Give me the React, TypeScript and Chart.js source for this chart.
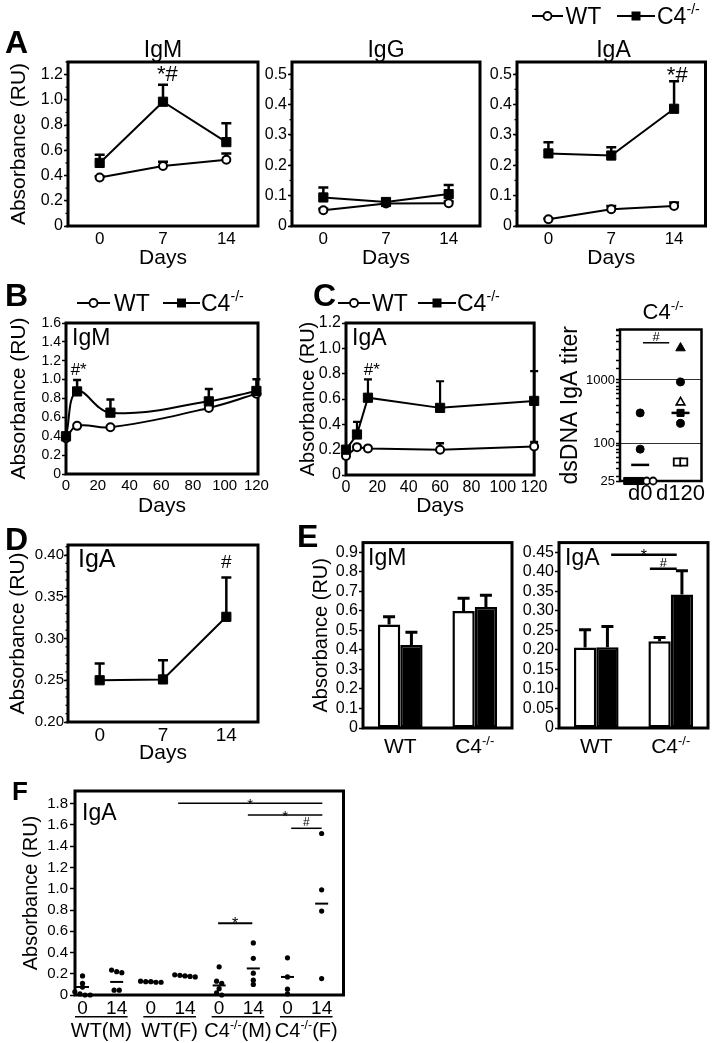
import React, { useEffect, useRef } from 'react';
import { Chart, registerables } from 'chart.js';

Chart.register(...registerables);

const FONT = '"Liberation Sans", Arial, Helvetica, sans-serif';
Chart.defaults.font.family = FONT;
Chart.defaults.color = '#000';

/* ================= DATA ================= */
// Panel A
const A_DAYS = ['0', '7', '14'];
const A_IGM_WT = [0.385, 0.475, 0.525];
const A_IGM_WT_ERR = [0.01, 0.035, 0.05];
const A_IGM_C4 = [0.5, 0.985, 0.665];
const A_IGM_C4_ERR = [0.065, 0.135, 0.15];
const A_IGG_WT = [0.052, 0.074, 0.075];
const A_IGG_WT_ERR = [0.005, 0.006, 0.006];
const A_IGG_C4 = [0.094, 0.079, 0.105];
const A_IGG_C4_ERR = [0.033, 0.01, 0.03];
const A_IGA_WT = [0.022, 0.055, 0.066];
const A_IGA_WT_ERR = [0.003, 0.011, 0.011];
const A_IGA_C4 = [0.239, 0.232, 0.386];
const A_IGA_C4_ERR = [0.037, 0.027, 0.091];

// Panel B
const B_DAYS = [0, 7, 28, 90, 120];
const B_IGM_WT = [0.38, 0.51, 0.495, 0.7, 0.85];
const B_IGM_WT_ERR = [0, 0.02, 0.01, 0.02, 0.01];
const B_IGM_C4 = [0.4, 0.875, 0.65, 0.77, 0.88];
const B_IGM_C4_ERR = [0.02, 0.12, 0.14, 0.13, 0.125];

// Panel C (time course)
const C_DAYS = [0, 7, 14, 60, 120];
const C_IGA_WT = [0.15, 0.22, 0.21, 0.2, 0.225];
const C_IGA_WT_ERR = [0, 0, 0, 0.05, 0.035];
const C_IGA_C4 = [0.2, 0.32, 0.61, 0.53, 0.585];
const C_IGA_C4_ERR = [0.02, 0.1, 0.145, 0.21, 0.235];

// Panel C (dsDNA IgA titer, C4-/-)
const DS_GROUPS = ['d0', 'd120'];
const DS_D0_FILLED_CIRCLE = [300, 80];
const DS_D0_FILLED_SQUARE = [25, 25, 25];
const DS_D0_OPEN_CIRCLE = [25, 25];
const DS_D120_FILLED_TRIANGLE = [3200];
const DS_D120_FILLED_CIRCLE = [930, 205];
const DS_D120_FILLED_SQUARE = [300];
const DS_D120_OPEN_TRIANGLE = [440];
const DS_D120_OPEN_SQUARE = [50, 50];
const DS_MEANS = [45, 300];

// Panel D
const D_DAYS = ['0', '7', '14'];
const D_IGA_C4 = [0.25, 0.251, 0.326];
const D_IGA_C4_ERR = [0.02, 0.023, 0.047];

// Panel E
const E_GROUPS = ['WT', 'C4^{-/-}'];
const E_IGM_WHITE = [0.53, 0.6];
const E_IGM_WHITE_ERR = [0.04, 0.065];
const E_IGM_BLACK = [0.425, 0.62];
const E_IGM_BLACK_ERR = [0.065, 0.06];
const E_IGA_WHITE = [0.206, 0.222];
const E_IGA_WHITE_ERR = [0.046, 0.01];
const E_IGA_BLACK = [0.207, 0.342];
const E_IGA_BLACK_ERR = [0.053, 0.061];

// Panel F
const F_DAY_LABELS = ['0', '14', '0', '14', '0', '14', '0', '14'];
const F_GROUP_LABELS = ['WT(M)', 'WT(F)', 'C4^{-/-}(M)', 'C4^{-/-}(F)'];
const F_WTM_D0 = [0.18, 0.11, 0.075, 0.03, 0.01, 0, 0];
const F_WTM_D14 = [0.235, 0.22, 0.21, 0.045, 0.045];
const F_WTF_D0 = [0.13, 0.125, 0.125, 0.12, 0.12];
const F_WTF_D14 = [0.19, 0.185, 0.18, 0.175, 0.17];
const F_C4M_D0 = [0.265, 0.13, 0.11, 0.06, 0.02, 0];
const F_C4M_D14 = [0.49, 0.345, 0.205, 0.14, 0.1];
const F_C4F_D0 = [0.35, 0.17, 0.055, 0.01];
const F_C4F_D14 = [1.52, 0.99, 0.79, 0.155];
const F_MEANS = [0.075, 0.123, 0.125, 0.18, 0.09, 0.25, 0.17, 0.86];

/* ================= HELPERS ================= */
type Rect = { x: number; y: number; w: number; h: number };
type Box = { l: number; t: number; r: number; b: number };

const fmt1 = (v: any) => (Number(v) === 0 ? '0' : Number(v).toFixed(1));
const fmt2 = (v: any) => (Number(v) === 0 ? '0' : Number(v).toFixed(2));

function richParts(s: string) {
  return s
    .split(/\^\{([^}]*)\}/)
    .map((t, i) => ({ t, sup: i % 2 === 1 }))
    .filter((p) => p.t.length > 0);
}

function drawRich(ctx: CanvasRenderingContext2D, s: string, x: number, y: number, size: number) {
  const parts = richParts(s);
  const ws = parts.map((p) => {
    ctx.font = `${p.sup ? size * 0.62 : size}px ${FONT}`;
    return ctx.measureText(p.t).width;
  });
  let cx = x - ws.reduce((a, b) => a + b, 0) / 2;
  ctx.textAlign = 'left';
  ctx.textBaseline = 'alphabetic';
  parts.forEach((p, i) => {
    ctx.font = `${p.sup ? size * 0.62 : size}px ${FONT}`;
    ctx.fillText(p.t, cx, p.sup ? y - size * 0.4 : y);
    cx += ws[i];
  });
}

// spread near-equal values horizontally (layout only, values untouched)
function swarm(values: number[], center: number, near: (a: number, b: number) => boolean, spacing: number) {
  const idx = values.map((_, i) => i).sort((a, b) => values[b] - values[a]);
  const clusters: number[][] = [];
  idx.forEach((i) => {
    const last = clusters[clusters.length - 1];
    if (last && near(values[last[last.length - 1]], values[i])) last.push(i);
    else clusters.push([i]);
  });
  const pts: { x: number; y: number }[] = new Array(values.length);
  clusters.forEach((cl) =>
    cl.forEach((i, k) => {
      pts[i] = { x: center + (k - (cl.length - 1) / 2) * spacing, y: values[i] };
    })
  );
  return pts;
}

/* ================= PLUGINS ================= */
const framePlugin = {
  id: 'frame',
  beforeDatasetsDraw(chart: any, _a: any, opts: any) {
    const { ctx, chartArea: a } = chart;
    ctx.save();
    ctx.strokeStyle = '#000';
    ctx.lineWidth = opts.width ?? 3;
    ctx.strokeRect(a.left, a.top, a.right - a.left, a.bottom - a.top);
    ctx.restore();
  },
};

const minorPlugin = {
  id: 'minor',
  beforeDatasetsDraw(chart: any, _a: any, opts: any) {
    if (!opts || !opts.step) return;
    const { ctx, chartArea } = chart;
    const ys = chart.scales.y;
    ctx.save();
    ctx.strokeStyle = '#000';
    ctx.lineWidth = 1.3;
    const n = Math.floor((ys.max - ys.min) / opts.step + 1e-6);
    for (let k = 0; k <= n; k++) {
      const y = ys.getPixelForValue(ys.min + k * opts.step);
      ctx.beginPath();
      ctx.moveTo(chartArea.left - (opts.len ?? 3), y);
      ctx.lineTo(chartArea.left, y);
      ctx.stroke();
    }
    ctx.restore();
  },
};

const errorPlugin = {
  id: 'errorBars',
  beforeDatasetsDraw(chart: any) {
    const { ctx } = chart;
    chart.data.datasets.forEach((ds: any, i: number) => {
      if (!ds.errors) return;
      const meta = chart.getDatasetMeta(i);
      const ys = chart.scales[meta.yAxisID];
      ctx.save();
      ctx.strokeStyle = '#000';
      ctx.lineWidth = ds.errorWidth ?? 2.5;
      meta.data.forEach((el: any, j: number) => {
        const e = ds.errors[j];
        if (!e) return;
        const raw = ds.data[j];
        const v = typeof raw === 'number' ? raw : raw.y;
        const top = ys.getPixelForValue(v + e);
        const cap = ds.errorCap ?? 10;
        ctx.beginPath();
        ctx.moveTo(el.x, el.y);
        ctx.lineTo(el.x, top);
        ctx.moveTo(el.x - cap / 2, top);
        ctx.lineTo(el.x + cap / 2, top);
        ctx.stroke();
      });
      ctx.restore();
    });
  },
};

const marksPlugin = {
  id: 'marks',
  afterDatasetsDraw(chart: any, _a: any, opts: any) {
    if (!opts) return;
    const { ctx, chartArea } = chart;
    const xs = chart.scales.x;
    const ys = chart.scales.y;
    ctx.save();
    ctx.fillStyle = '#000';
    ctx.strokeStyle = '#000';
    (opts.texts || []).forEach((t: any) => {
      ctx.font = `${t.size}px ${FONT}`;
      ctx.textAlign = 'center';
      ctx.textBaseline = 'alphabetic';
      ctx.fillText(t.text, xs.getPixelForValue(t.x), ys.getPixelForValue(t.y));
    });
    (opts.brackets || []).forEach((b: any) => {
      const x1 = xs.getPixelForValue(b.x1);
      const x2 = xs.getPixelForValue(b.x2);
      const y = ys.getPixelForValue(b.y);
      ctx.lineWidth = b.width ?? 2;
      ctx.beginPath();
      ctx.moveTo(x1, y);
      ctx.lineTo(x2, y);
      ctx.stroke();
      ctx.font = `${b.size}px ${FONT}`;
      ctx.textAlign = 'center';
      ctx.textBaseline = 'alphabetic';
      ctx.fillText(b.text, (x1 + x2) / 2, y + (b.dy ?? -2));
    });
    (opts.underlines || []).forEach((u: any) => {
      const x1 = xs.getPixelForValue(u.x1);
      const x2 = xs.getPixelForValue(u.x2);
      const y = chartArea.bottom + u.dy;
      ctx.lineWidth = 1.5;
      ctx.beginPath();
      ctx.moveTo(x1, y);
      ctx.lineTo(x2, y);
      ctx.stroke();
    });
    (opts.labels || []).forEach((l: any) => {
      drawRich(ctx, l.text, xs.getPixelForValue(l.x), chartArea.bottom + l.dy, l.size);
    });
    ctx.restore();
  },
};

const PLUGINS = [framePlugin, minorPlugin, errorPlugin, marksPlugin];

/* ================= SCALE BUILDERS ================= */
function yAxis(c: Rect, b: Box, o: any) {
  const ticks: any = {
    includeBounds: false,
    autoSkip: false,
    padding: o.pad ?? 1,
    color: '#000',
    font: { family: FONT, size: o.size },
  };
  if (o.step) ticks.stepSize = o.step;
  if (o.cb) ticks.callback = o.cb;
  return {
    type: o.type ?? 'linear',
    position: 'left',
    min: o.min,
    max: o.max,
    afterFit: (s: any) => {
      s.width = b.l - c.x;
    },
    border: { display: false },
    grid: {
      display: true,
      drawOnChartArea: !!o.gridColor,
      color: o.gridColor ?? '#000',
      lineWidth: 1,
      drawTicks: true,
      tickLength: o.tickLen ?? 4,
      tickColor: '#000',
      tickWidth: 1.5,
    },
    ticks,
    title: o.title
      ? {
          display: true,
          text: o.title,
          color: '#000',
          font: { family: FONT, size: o.titleSize },
          padding: { top: Math.max(0, o.titleX - c.x - o.titleSize * 0.6), bottom: 0 },
        }
      : { display: false },
  };
}

function xAxis(c: Rect, b: Box, o: any) {
  const ticks: any = {
    display: o.showTicks ?? true,
    includeBounds: false,
    autoSkip: false,
    maxRotation: 0,
    minRotation: 0,
    padding: o.pad ?? 2,
    color: '#000',
    font: { family: FONT, size: o.size ?? 16 },
  };
  if (o.step) ticks.stepSize = o.step;
  if (o.cb) ticks.callback = o.cb;
  const s: any = {
    type: o.type ?? 'linear',
    position: 'bottom',
    offset: o.offset ?? false,
    afterFit: (sc: any) => {
      sc.height = c.y + c.h - b.b;
    },
    border: { display: false },
    grid: { display: false, drawTicks: false, tickLength: 0 },
    ticks,
    title: o.title
      ? {
          display: true,
          text: o.title,
          color: '#000',
          font: { family: FONT, size: o.titleSize },
          padding: { top: 0, bottom: Math.max(0, c.y + c.h - o.titleY - o.titleSize * 0.6) },
        }
      : { display: false },
  };
  if (o.min !== undefined) s.min = o.min;
  if (o.max !== undefined) s.max = o.max;
  return s;
}

function baseConfig(type: string, c: Rect, b: Box, scales: any, datasets: any[], labels: any, pluginOpts: any) {
  return {
    type,
    data: labels ? { labels, datasets } : { datasets },
    options: {
      responsive: false,
      maintainAspectRatio: false,
      animation: false,
      events: [],
      layout: { padding: { left: 0, top: b.t - c.y, right: c.x + c.w - b.r, bottom: 0 } },
      plugins: {
        legend: { display: false },
        tooltip: { enabled: false },
        title: { display: false },
        ...pluginOpts,
      },
      scales,
    },
    plugins: PLUGINS,
  };
}

function wtLine(data: any[], errors: number[], extra: any = {}) {
  return {
    type: 'line',
    data,
    errors,
    borderColor: '#000',
    borderWidth: 2,
    pointStyle: 'circle',
    pointRadius: 4,
    pointBackgroundColor: '#fff',
    pointBorderColor: '#000',
    pointBorderWidth: 2,
    clip: false,
    tension: 0,
    ...extra,
  };
}
function c4Line(data: any[], errors: number[], extra: any = {}) {
  return {
    type: 'line',
    data,
    errors,
    borderColor: '#000',
    borderWidth: 2,
    pointStyle: 'rect',
    pointRadius: 6.5,
    pointBackgroundColor: '#000',
    pointBorderColor: '#000',
    pointBorderWidth: 1,
    clip: false,
    tension: 0,
    ...extra,
  };
}
const xy = (xsArr: number[], ysArr: number[]) => xsArr.map((x, i) => ({ x, y: ysArr[i] }));

/* ================= GEOMETRY ================= */
const GA1 = { c: { x: 0, y: 45, w: 268, h: 232 }, b: { l: 68, t: 62, r: 258, b: 226 } };
const GA2 = { c: { x: 256, y: 45, w: 232, h: 232 }, b: { l: 292, t: 62, r: 480, b: 226 } };
const GA3 = { c: { x: 482, y: 45, w: 231, h: 232 }, b: { l: 517, t: 62, r: 710, b: 226 } };
const GB = { c: { x: 0, y: 310, w: 275, h: 212 }, b: { l: 66, t: 323, r: 258, b: 474 } };
const GC = { c: { x: 296, y: 310, w: 254, h: 212 }, b: { l: 346, t: 323, r: 535, b: 475 } };
const GDS = { c: { x: 556, y: 318, w: 157, h: 190 }, b: { l: 620, t: 328, r: 707, b: 481 } };
const GD = { c: { x: 0, y: 532, w: 268, h: 240 }, b: { l: 68, t: 545, r: 258, b: 722 } };
const GE1 = { c: { x: 306, y: 532, w: 212, h: 230 }, b: { l: 363, t: 542, r: 512, b: 728 } };
const GE2 = { c: { x: 512, y: 532, w: 201, h: 230 }, b: { l: 559, t: 542, r: 708, b: 728 } };
const GF = { c: { x: 0, y: 778, w: 352, h: 265 }, b: { l: 75, t: 791, r: 344, b: 995 } };

/* ================= CHART CONFIGS ================= */
function aConfig(g: any, wt: number[], wtE: number[], c4: number[], c4E: number[], yMax: number, step: number, minor: number, yTitle: boolean, marks: any) {
  return baseConfig(
    'line',
    g.c,
    g.b,
    {
      x: xAxis(g.c, g.b, { type: 'category', offset: true, size: 17, pad: 3, title: 'Days', titleSize: 21, titleY: 258 }),
      y: yAxis(g.c, g.b, {
        min: 0,
        max: yMax,
        step,
        size: 16,
        cb: fmt1,
        tickLen: 4,
        pad: 1,
        title: yTitle ? 'Absorbance (RU)' : undefined,
        titleSize: 21,
        titleX: 19.4,
      }),
    },
    [c4Line(c4, c4E), wtLine(wt, wtE)],
    A_DAYS,
    { frame: { width: 3 }, minor: { step: minor, len: 2.5 }, marks }
  );
}

function bConfig() {
  const g = GB;
  return baseConfig(
    'line',
    g.c,
    g.b,
    {
      x: xAxis(g.c, g.b, { min: 0, max: 121, step: 20, size: 15, pad: 3, title: 'Days', titleSize: 21, titleY: 505.8 }),
      y: yAxis(g.c, g.b, { min: 0, max: 1.6, step: 0.2, size: 14, cb: fmt1, tickLen: 4, pad: 1, title: 'Absorbance (RU)', titleSize: 21, titleX: 19.4 }),
    },
    [
      c4Line(xy(B_DAYS, B_IGM_C4), B_IGM_C4_ERR, { tension: 0.4, errorCap: 8 }),
      wtLine(xy(B_DAYS, B_IGM_WT), B_IGM_WT_ERR, { tension: 0.4, errorCap: 8 }),
    ],
    null,
    { frame: { width: 3 }, marks: { texts: [{ x: 8, y: 1.05, text: '#*', size: 17 }] } }
  );
}

function cConfig() {
  const g = GC;
  return baseConfig(
    'line',
    g.c,
    g.b,
    {
      x: xAxis(g.c, g.b, { min: 0, max: 120, step: 20, size: 16, pad: 2.5, title: 'Days', titleSize: 21, titleY: 505.8 }),
      y: yAxis(g.c, g.b, { min: 0, max: 1.2, step: 0.2, size: 16, cb: fmt1, tickLen: 4, pad: 1, title: 'Absorbance (RU)', titleSize: 20, titleX: 308.4 }),
    },
    [
      c4Line(xy(C_DAYS, C_IGA_C4), C_IGA_C4_ERR, { errorCap: 8, errorWidth: 2.2 }),
      wtLine(xy(C_DAYS, C_IGA_WT), C_IGA_WT_ERR, { errorCap: 8 }),
    ],
    null,
    { frame: { width: 3 }, marks: { texts: [{ x: 16.5, y: 0.79, text: '#*', size: 17 }] } }
  );
}

function dsConfig() {
  const g = GDS;
  const sets: [string, number[]][][] = [
    [
      ['filledCircle', DS_D0_FILLED_CIRCLE],
      ['filledSquare', DS_D0_FILLED_SQUARE],
      ['openCircle', DS_D0_OPEN_CIRCLE],
    ],
    [
      ['filledTriangle', DS_D120_FILLED_TRIANGLE],
      ['filledCircle', DS_D120_FILLED_CIRCLE],
      ['filledSquare', DS_D120_FILLED_SQUARE],
      ['openTriangle', DS_D120_OPEN_TRIANGLE],
      ['openSquare', DS_D120_OPEN_SQUARE],
    ],
  ];
  const pts: Record<string, { x: number; y: number }[]> = {};
  sets.forEach((group, gi) => {
    const vals: number[] = [];
    const keys: string[] = [];
    group.forEach(([k, arr]) =>
      arr.forEach((v) => {
        vals.push(v);
        keys.push(k);
      })
    );
    const p = swarm(vals, gi, (a, b) => Math.abs(Math.log10(a) - Math.log10(b)) < 0.06, 0.16);
    p.forEach((pt, i) => {
      (pts[keys[i]] = pts[keys[i]] || []).push(pt);
    });
  });
  const style: Record<string, any> = {
    filledCircle: { pointStyle: 'circle', pointRadius: 4, pointBackgroundColor: '#000', pointBorderWidth: 1 },
    filledSquare: { pointStyle: 'rect', pointRadius: 5, pointBackgroundColor: '#000', pointBorderWidth: 1 },
    openCircle: { pointStyle: 'circle', pointRadius: 3.5, pointBackgroundColor: '#fff', pointBorderWidth: 1.8 },
    filledTriangle: { pointStyle: 'triangle', pointRadius: 5.5, pointBackgroundColor: '#000', pointBorderWidth: 1 },
    openTriangle: { pointStyle: 'triangle', pointRadius: 5, pointBackgroundColor: '#fff', pointBorderWidth: 1.6 },
    openSquare: { pointStyle: 'rect', pointRadius: 5, pointBackgroundColor: '#fff', pointBorderWidth: 1.8 },
  };
  const datasets: any[] = Object.keys(pts).map((k) => ({
    data: pts[k],
    pointBorderColor: '#000',
    clip: false,
    ...style[k],
  }));
  datasets.push({
    data: DS_MEANS.map((v, i) => ({ x: i, y: v })),
    pointStyle: 'line',
    pointRadius: 9,
    pointBorderWidth: 2.5,
    pointBorderColor: '#000',
    borderColor: '#000',
    clip: false,
  });
  const gridColor = (ctx: any) => (ctx.tick && (ctx.tick.value === 100 || ctx.tick.value === 1000) ? '#333' : 'rgba(0,0,0,0)');
  return baseConfig(
    'scatter',
    g.c,
    g.b,
    {
      x: xAxis(g.c, g.b, { min: -0.5, max: 1.52, step: 1, size: 22, pad: 0, cb: (v: any) => DS_GROUPS[Number(v)] ?? '' }),
      y: yAxis(g.c, g.b, {
        type: 'logarithmic',
        min: 25,
        max: 6300,
        size: 13,
        tickLen: 4,
        pad: 1,
        cb: (v: any) => ([25, 100, 1000].includes(Number(v)) ? String(v) : ''),
        gridColor,
        title: 'dsDNA IgA titer',
        titleSize: 23,
        titleX: 570.3,
      }),
    },
    datasets,
    null,
    { frame: { width: 2.5 }, marks: { brackets: [{ x1: 0.07, x2: 0.72, y: 3880, text: '#', size: 13, dy: -2, width: 1.5 }] } }
  );
}

function dConfig() {
  const g = GD;
  return baseConfig(
    'line',
    g.c,
    g.b,
    {
      x: xAxis(g.c, g.b, { type: 'category', offset: true, size: 19, pad: 2, title: 'Days', titleSize: 21, titleY: 753 }),
      y: yAxis(g.c, g.b, { min: 0.2, max: 0.412, step: 0.05, size: 15, cb: fmt2, tickLen: 4, pad: 0, title: 'Absorbance (RU)', titleSize: 21, titleX: 18.7 }),
    },
    [c4Line(D_IGA_C4, D_IGA_C4_ERR)],
    D_DAYS,
    { frame: { width: 3 }, minor: { step: 0.01, len: 2.5 }, marks: { texts: [{ x: 2, y: 0.384, text: '#', size: 19 }] } }
  );
}

function eConfig(g: any, white: number[], whiteE: number[], black: number[], blackE: number[], yMax: number, step: number, cb: any, yTitle: boolean, marks: any) {
  const bar = (data: number[], errors: number[], fill: string) => ({
    type: 'bar',
    data,
    errors,
    errorCap: 12,
    errorWidth: 3,
    backgroundColor: fill,
    borderColor: '#000',
    borderWidth: 2.5,
    borderSkipped: false,
    categoryPercentage: 0.6,
    barPercentage: 1,
  });
  return baseConfig(
    'bar',
    g.c,
    g.b,
    {
      x: xAxis(g.c, g.b, { type: 'category', offset: true, showTicks: false }),
      y: yAxis(g.c, g.b, {
        min: 0,
        max: yMax,
        step,
        size: 16,
        cb,
        tickLen: 4,
        pad: 1,
        title: yTitle ? 'Absorbance (RU)' : undefined,
        titleSize: 20,
        titleX: 321.4,
      }),
    },
    [bar(white, whiteE, '#fff'), bar(black, blackE, '#000')],
    E_GROUPS,
    {
      frame: { width: 3 },
      marks: { ...marks, labels: E_GROUPS.map((t, i) => ({ x: i, text: t, dy: 25, size: 21 })) },
    }
  );
}

function fConfig() {
  const g = GF;
  const cols = [F_WTM_D0, F_WTM_D14, F_WTF_D0, F_WTF_D14, F_C4M_D0, F_C4M_D14, F_C4F_D0, F_C4F_D14];
  const pts = cols.flatMap((vals, i) => swarm(vals, i, (a, b) => Math.abs(a - b) < 0.03, 0.15));
  return baseConfig(
    'scatter',
    g.c,
    g.b,
    {
      x: xAxis(g.c, g.b, { min: -0.22, max: 7.64, step: 1, size: 19, pad: 2, cb: (v: any) => F_DAY_LABELS[Number(v)] ?? '' }),
      y: yAxis(g.c, g.b, { min: 0, max: 1.92, step: 0.2, size: 15, cb: fmt1, tickLen: 5, pad: 2, title: 'Absorbance (RU)', titleSize: 20, titleX: 31.4 }),
    },
    [
      {
        data: pts,
        pointStyle: 'circle',
        pointRadius: 2.6,
        pointBackgroundColor: '#000',
        pointBorderColor: '#000',
        pointBorderWidth: 0,
        clip: false,
      },
      {
        data: F_MEANS.map((v, i) => ({ x: i, y: v })),
        pointStyle: 'line',
        pointRadius: 6.5,
        pointBorderWidth: 2,
        pointBorderColor: '#000',
        borderColor: '#000',
        clip: false,
      },
    ],
    null,
    {
      frame: { width: 3 },
      marks: {
        brackets: [
          { x1: 2.8, x2: 7.02, y: 1.804, text: '*', size: 15, dy: 6, width: 1.5 },
          { x1: 4.84, x2: 7.02, y: 1.694, text: '*', size: 15, dy: 6, width: 1.5 },
          { x1: 6.11, x2: 7.0, y: 1.569, text: '#', size: 12, dy: -2, width: 1.5 },
          { x1: 3.97, x2: 4.97, y: 0.675, text: '*', size: 16, dy: 6, width: 2 },
        ],
        underlines: F_GROUP_LABELS.map((_, i) => ({ x1: 2 * i - 0.22, x2: 2 * i + 1.32, dy: 21.7 })),
        labels: F_GROUP_LABELS.map((t, i) => ({ x: 2 * i + 0.55, text: t, dy: 41.7, size: 20 })),
      },
    }
  );
}

/* ================= COMPONENTS ================= */
function ChartCanvas({ g, make }: { g: { c: Rect }; make: () => any }) {
  const ref = useRef<HTMLCanvasElement | null>(null);
  useEffect(() => {
    const chart = new Chart(ref.current as HTMLCanvasElement, make());
    return () => chart.destroy();
  }, []);
  const c = g.c;
  return (
    <canvas
      ref={ref}
      width={c.w}
      height={c.h}
      style={{ position: 'absolute', left: c.x, top: c.y, width: c.w, height: c.h }}
    />
  );
}

function Txt({ x, y, size, bold, anchor, children }: any) {
  const style: any = {
    position: 'absolute',
    left: x,
    top: y - 0.8465 * size,
    fontSize: size,
    lineHeight: 1,
    fontWeight: bold ? 700 : 400,
    whiteSpace: 'nowrap',
    fontFamily: FONT,
    color: '#000',
  };
  if (anchor === 'middle') style.transform = 'translateX(-50%)';
  return <div style={style}>{children}</div>;
}

const Sup = ({ children }: any) => (
  <span style={{ fontSize: '0.62em', position: 'relative', top: '-0.68em' }}>{children}</span>
);

function Glyph({ x1, x2, y, kind }: { x1: number; x2: number; y: number; kind: 'wt' | 'c4' }) {
  const w = x2 - x1;
  const h = 14;
  return (
    <svg style={{ position: 'absolute', left: x1, top: y - h / 2, overflow: 'visible' }} width={w} height={h}>
      <line x1={0} y1={h / 2} x2={w} y2={h / 2} stroke="#000" strokeWidth={2} />
      {kind === 'wt' ? (
        <circle cx={w / 2} cy={h / 2} r={4} fill="#fff" stroke="#000" strokeWidth={1.8} />
      ) : (
        <rect x={w / 2 - 4.5} y={h / 2 - 4.5} width={9} height={9} fill="#000" />
      )}
    </svg>
  );
}

function Legend({ l1, t1, l2, t2, lineY, base, size }: any) {
  return (
    <>
      <Glyph x1={l1[0]} x2={l1[1]} y={lineY} kind="wt" />
      <Txt x={t1} y={base} size={size}>WT</Txt>
      <Glyph x1={l2[0]} x2={l2[1]} y={lineY} kind="c4" />
      <Txt x={t2} y={base} size={size}>
        C4<Sup>-/-</Sup>
      </Txt>
    </>
  );
}

export default function App() {
  return (
    <div
      style={{
        position: 'absolute',
        left: 0,
        top: 0,
        width: 713,
        height: 1043,
        background: '#fff',
        overflow: 'hidden',
        fontFamily: FONT,
      }}
    >
      <ChartCanvas g={GA1} make={() => aConfig(GA1, A_IGM_WT, A_IGM_WT_ERR, A_IGM_C4, A_IGM_C4_ERR, 1.3, 0.2, 0.1, true, { texts: [{ x: 1.07, y: 1.146, text: '*#', size: 22 }] })} />
      <ChartCanvas g={GA2} make={() => aConfig(GA2, A_IGG_WT, A_IGG_WT_ERR, A_IGG_C4, A_IGG_C4_ERR, 0.54, 0.1, 0.05, false, {})} />
      <ChartCanvas g={GA3} make={() => aConfig(GA3, A_IGA_WT, A_IGA_WT_ERR, A_IGA_C4, A_IGA_C4_ERR, 0.54, 0.1, 0.05, false, { texts: [{ x: 2.05, y: 0.4745, text: '*#', size: 22 }] })} />
      <ChartCanvas g={GB} make={bConfig} />
      <ChartCanvas g={GC} make={cConfig} />
      <ChartCanvas g={GDS} make={dsConfig} />
      <ChartCanvas g={GD} make={dConfig} />
      <ChartCanvas
        g={GE1}
        make={() => eConfig(GE1, E_IGM_WHITE, E_IGM_WHITE_ERR, E_IGM_BLACK, E_IGM_BLACK_ERR, 0.95, 0.1, fmt1, true, {})}
      />
      <ChartCanvas
        g={GE2}
        make={() =>
          eConfig(GE2, E_IGA_WHITE, E_IGA_WHITE_ERR, E_IGA_BLACK, E_IGA_BLACK_ERR, 0.475, 0.05, fmt2, false, {
            brackets: [
              { x1: 0.2, x2: 1.08, y: 0.444, text: '*', size: 16, dy: 6, width: 2.5 },
              { x1: 0.72, x2: 1.08, y: 0.408, text: '#', size: 13, dy: -2, width: 2.5 },
            ],
          })
        }
      />
      <ChartCanvas g={GF} make={fConfig} />

      {/* Panel letters */}
      <Txt x={5} y={53} size={32} bold>A</Txt>
      <Txt x={5} y={306.5} size={32} bold>B</Txt>
      <Txt x={313} y={306.5} size={32} bold>C</Txt>
      <Txt x={5} y={550} size={32} bold>D</Txt>
      <Txt x={297} y={547} size={32} bold>E</Txt>
      <Txt x={12} y={800} size={26} bold>F</Txt>

      {/* Panel A titles + legend */}
      <Txt x={163} y={57.3} size={23} anchor="middle">IgM</Txt>
      <Txt x={386} y={57.3} size={23} anchor="middle">IgG</Txt>
      <Txt x={613.5} y={57.3} size={23} anchor="middle">IgA</Txt>
      <Legend l1={[532, 563]} t1={565.5} l2={[617, 655]} t2={657} lineY={15.5} base={24} size={23} />

      {/* Panel B / C */}
      <Legend l1={[77, 110]} t1={114} l2={[163, 200]} t2={201} lineY={303} base={311.5} size={23} />
      <Txt x={72} y={345} size={23}>IgM</Txt>
      <Legend l1={[338, 370]} t1={372} l2={[418, 456]} t2={457} lineY={303} base={311.5} size={23} />
      <Txt x={352} y={345} size={23}>IgA</Txt>
      <Txt x={663} y={320} size={22} anchor="middle">
        C4<Sup>-/-</Sup>
      </Txt>

      {/* Panel D / E / F inner labels */}
      <Txt x={78} y={567} size={25}>IgA</Txt>
      <Txt x={368} y={565} size={23}>IgM</Txt>
      <Txt x={565} y={565} size={23}>IgA</Txt>
      <Txt x={82} y={820} size={23}>IgA</Txt>
    </div>
  );
}
